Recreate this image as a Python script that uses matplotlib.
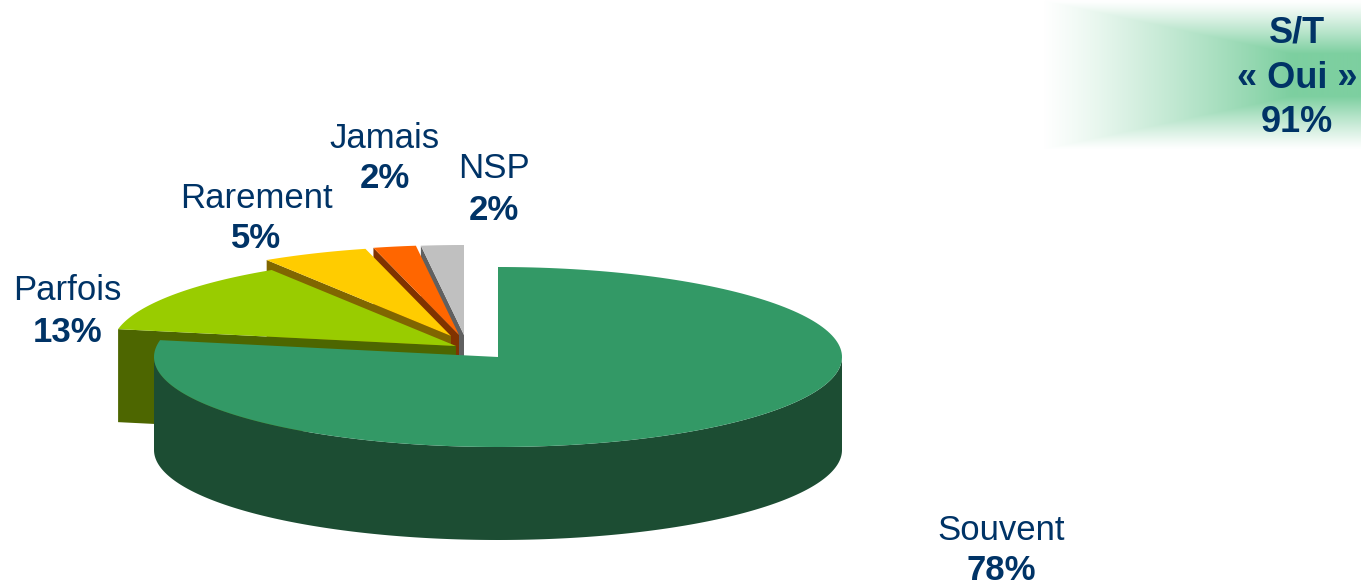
import numpy as np
import matplotlib
matplotlib.use("Agg")
import matplotlib.pyplot as plt
from matplotlib.colors import LinearSegmentedColormap
from matplotlib.patches import Polygon

categories = ["Souvent", "Parfois", "Rarement", "Jamais", "NSP"]
values = [78, 13, 5, 2, 2]
box_lines = ["S/T", "« Oui »", "91%"]

top_colors = ["#339966", "#99CC00", "#FFCC00", "#FF6600", "#C0C0C0"]
side_colors = ["#1C4D33", "#4D6600", "#806600", "#803300", "#606060"]

# where each slice sits once pulled out of the pie (pixels)
centers = [(498, 357), (456, 346), (451, 336), (459, 335), (464, 335)]
label_pos = [(1001, 531), (67, 290), (256, 199), (385, 139), (494, 169)]
pct_pos = [(1001, 571), (68, 332), (256, 239), (385, 179), (494, 210)]

RX = 344
RY = 90
DEPTH = 93
NAVY = "#003366"
FONT = "Liberation Sans"
SIZE = 25

plt.rcParams["font.family"] = [FONT, "DejaVu Sans"]

fig = plt.figure(figsize=(13.61, 5.86), dpi=100)
ax = fig.add_axes([0, 0, 1, 1])
ax.set_xlim(0, 1361)
ax.set_ylim(586, 0)
ax.axis("off")

# green box behind S/T, gradient runs towards a line on the right
x0, x1, y0, y1 = 1042, 1361, 0, 150
xx, yy = np.meshgrid(np.linspace(x0, x1, 320), np.linspace(y0, y1, 150))
dx = (xx - x0) / 250
dy = 1 - np.abs(yy - 75) / 75
t = np.clip(np.minimum(dx, dy * 1.4), 0, 1)
t = t ** 1.15
cmap = LinearSegmentedColormap.from_list("box", ["#FFFFFF", "#7DCFA0"])
ax.imshow(t, cmap=cmap, vmin=0, vmax=1, extent=(x0, x1, y1, y0), aspect="auto", zorder=0)
ax.set_xlim(0, 1361)
ax.set_ylim(586, 0)


def rim(c, a1, a2):
    # points of the ellipse going clockwise from a1 to a2 (degrees)
    a = np.radians(np.linspace(a1, a2, 200))
    return np.column_stack((c[0] + RX * np.cos(a), c[1] - RY * np.sin(a)))


# slice angles clockwise from the top
fractions = np.array(values) / sum(values)
ends = 90 - np.cumsum(fractions) * 360
starts = np.concatenate(([90], ends[:-1]))

# back slices first so the front ones cover them
for i in range(len(values) - 1, -1, -1):
    c = centers[i]
    pts = rim(c, starts[i], ends[i])
    z = 2 + (len(values) - i) * 2

    # cut face on the side of the slice that looks at the viewer
    if i > 0:
        p = pts[0]
        edge = np.array([p, c, (c[0], c[1] + DEPTH), (p[0], p[1] + DEPTH)])
        ax.add_patch(Polygon(edge, closed=True, fc=side_colors[i], ec="none", zorder=z))

    # outer wall, only the front half of the ellipse shows
    lo = max(ends[i], -180)
    hi = min(starts[i], 0)
    if hi > lo:
        wall = rim(c, hi, lo)
        wall = np.vstack((wall, wall[::-1] + [0, DEPTH]))
        ax.add_patch(Polygon(wall, closed=True, fc=side_colors[i], ec="none", zorder=z))

    top = np.vstack(([c], pts))
    ax.add_patch(Polygon(top, closed=True, fc=top_colors[i], ec="none", zorder=z + 1))

for i, name in enumerate(categories):
    ax.text(label_pos[i][0], label_pos[i][1], name, color=NAVY, fontsize=SIZE,
            ha="center", va="center", zorder=20)
    ax.text(pct_pos[i][0], pct_pos[i][1], "%d%%" % values[i], color=NAVY, fontsize=SIZE,
            fontweight="bold", ha="center", va="center", zorder=20)

for line, y in zip(box_lines, [33, 79, 122]):
    ax.text(1297, y, line, color=NAVY, fontsize=26, fontweight="bold",
            ha="center", va="center", zorder=20)

fig.savefig("out.png", dpi=100)
